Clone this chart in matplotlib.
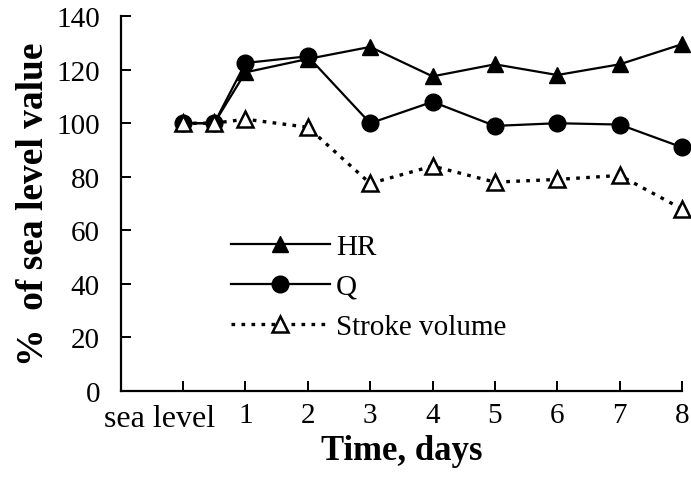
import matplotlib
matplotlib.use("Agg")
import matplotlib.pyplot as plt
import matplotlib.transforms as mtransforms

plt.rcParams['font.family'] = ['Liberation Serif', 'DejaVu Serif']

# days after arrival (0 = sea level, 0.5 = second baseline point)
days = [0, 0.5, 1, 2, 3, 4, 5, 6, 7, 8]
hr = [100, 100, 119, 124, 128.5, 117.5, 122, 118, 122, 129.5]
q = [100, 100, 122.5, 125, 100, 108, 99, 100, 99.5, 91]
stroke_volume = [100, 100, 101.5, 98.5, 77.5, 84, 78, 79, 80.5, 68]

tick_days = [1, 2, 3, 4, 5, 6, 7, 8]
tick_labels = ["1", "2", "3", "4", "5", "6", "7", "8"]
y_ticks = [0, 20, 40, 60, 80, 100, 120, 140]

fig = plt.figure(figsize=(6.91, 4.89), dpi=100)
ax = fig.add_axes([0.1747, 0.1984, 0.8123, 0.7666])

ax.plot(days, hr, color="black", lw=1.6, marker="^", ms=12, label="HR", clip_on=False)
ax.plot(days, q, color="black", lw=1.6, marker="o", ms=12, label="Q", clip_on=False)
ax.plot(days, stroke_volume, color="black", lw=2.4, dashes=(1.1, 1.9),
        marker="^", ms=12, mfc="white", mec="black", mew=1.8,
        label="Stroke volume", clip_on=False)

ax.set_xlim(-1, 8)
ax.set_ylim(0, 140)
ax.set_xticks([0] + tick_days)
ax.set_xticklabels([""] + tick_labels)
ax.set_yticks(y_ticks)

for side in ["top", "right"]:
    ax.spines[side].set_visible(False)
for side in ["left", "bottom"]:
    ax.spines[side].set_linewidth(1.6)

ax.tick_params(direction="in", length=7, width=1.4, labelsize=21)
ax.tick_params(axis="x", pad=8)
ax.tick_params(axis="y", pad=15)

# bigger "sea level" label placed left of the first tick
trans = mtransforms.blended_transform_factory(ax.transData, ax.transAxes)
ax.text(-0.37, -0.035, "sea level", transform=trans, ha="center", va="top", fontsize=23)

ax.set_xlabel("Time, days", fontsize=25, fontweight="bold", labelpad=4)
ax.set_ylabel("%  of sea level value", fontsize=27, fontweight="bold", labelpad=4)

ax.legend(loc="upper left", bbox_to_anchor=(0.313, 0.55), bbox_transform=fig.transFigure,
          frameon=False, fontsize=21, handlelength=3.4, handletextpad=0.2,
          labelspacing=0.46, numpoints=1, borderpad=0)

fig.savefig("out.png", dpi=100)
